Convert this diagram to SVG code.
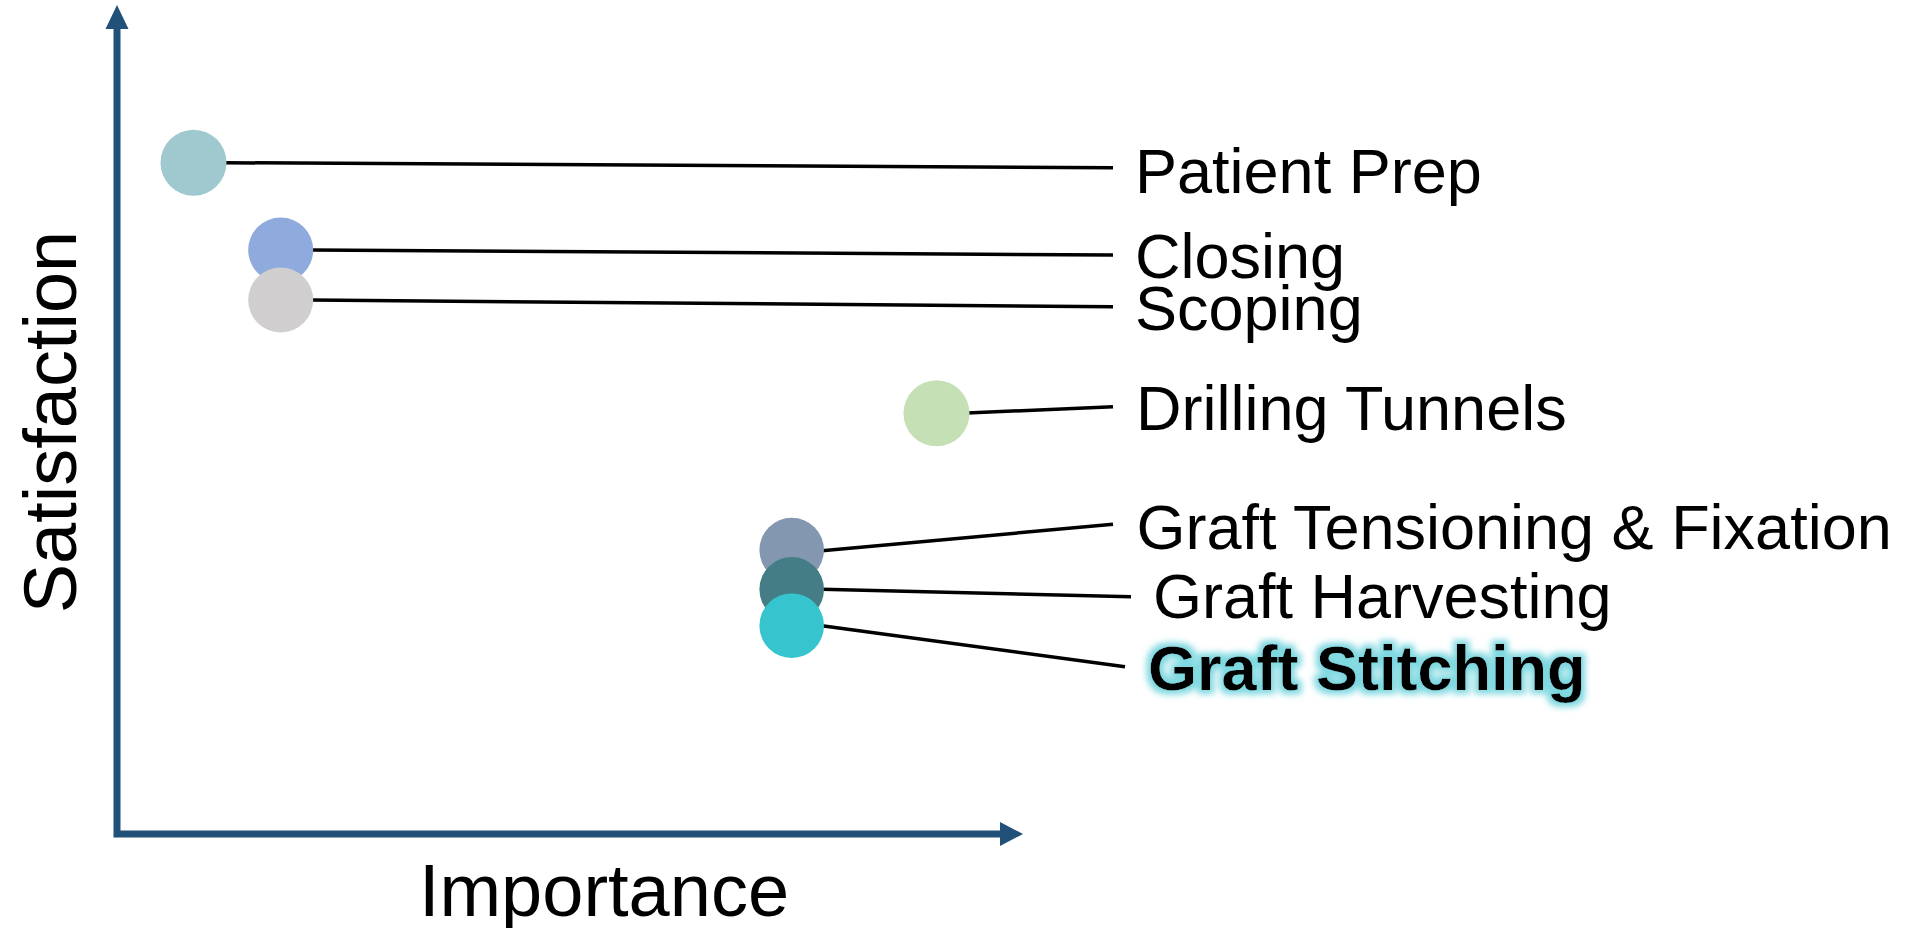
<svg xmlns="http://www.w3.org/2000/svg" width="1918" height="928" viewBox="0 0 1918 928">
  <style>
    .axis { fill: none; stroke: #215079; stroke-width: 7; stroke-linejoin: miter; }
    .head { fill: #215079; }
    .lead { stroke: #000000; stroke-width: 3.5; fill: none; }
    .label { font-family: "Liberation Sans", Arial, sans-serif; font-size: 63px; fill: #000000; }
    .title { font-family: "Liberation Sans", Arial, sans-serif; font-size: 74px; fill: #000000; }
    .bold { font-weight: bold; }
  </style>
  <defs>
    <filter id="glow" x="-10%" y="-40%" width="120%" height="180%">
      <feMorphology in="SourceAlpha" operator="dilate" radius="4" result="thick"/>
      <feGaussianBlur in="thick" stdDeviation="3" result="soft"/>
      <feFlood flood-color="#7ED8E0" flood-opacity="1"/>
      <feComposite in2="soft" operator="in" result="halo"/>
      <feMerge>
        <feMergeNode in="halo"/>
        <feMergeNode in="SourceGraphic"/>
      </feMerge>
    </filter>
  </defs>
  <rect width="1918" height="928" fill="#ffffff"/>

  <!-- axes -->
  <g id="axes">
    <path class="axis" d="M117,29 V834 H1000"/>
    <polygon class="head" points="105.5,29 117,5 128.5,29"/>
    <polygon class="head" points="1000,822 1023,834 1000,846"/>
    <text class="title" x="604" y="916" text-anchor="middle">Importance</text>
    <text class="title" transform="translate(76,422) rotate(-90)" text-anchor="middle">Satisfaction</text>
  </g>

  <!-- leader lines from each point to its label -->
  <g id="connectors">
    <line class="lead" x1="224" y1="162.7" x2="1113" y2="167.7"/>
    <line class="lead" x1="311" y1="250" x2="1113" y2="255"/>
    <line class="lead" x1="311" y1="300" x2="1113" y2="306.7"/>
    <line class="lead" x1="967" y1="413" x2="1113" y2="406.7"/>
    <line class="lead" x1="822" y1="550.7" x2="1113" y2="524.3"/>
    <line class="lead" x1="822" y1="589.3" x2="1131" y2="596.7"/>
    <line class="lead" x1="822" y1="625.7" x2="1125" y2="666.7"/>
  </g>

  <g id="patient-prep">
    <circle cx="193.5" cy="162.7" r="33" fill="#9FC9CF"/>
    <text class="label" x="1135" y="192.5">Patient Prep</text>
  </g>
  <g id="closing">
    <circle cx="280.7" cy="250" r="32.5" fill="#8FAADC"/>
    <text class="label" x="1135" y="277.5">Closing</text>
  </g>
  <g id="scoping">
    <circle cx="280.7" cy="300" r="32.5" fill="#D0CECE"/>
    <text class="label" x="1135" y="330">Scoping</text>
  </g>
  <g id="drilling-tunnels">
    <circle cx="936.5" cy="413.3" r="33" fill="#C5E0B4"/>
    <text class="label" x="1136" y="430">Drilling Tunnels</text>
  </g>
  <g id="graft-tensioning">
    <circle cx="791.7" cy="550" r="32.3" fill="#8497B0"/>
    <text class="label" x="1136.5" y="549">Graft Tensioning &amp; Fixation</text>
  </g>
  <g id="graft-harvesting">
    <circle cx="791.7" cy="589.3" r="32.3" fill="#447D86"/>
    <text class="label" x="1153" y="618">Graft Harvesting</text>
  </g>
  <g id="graft-stitching">
    <circle cx="791.7" cy="625.7" r="32.3" fill="#36C4CE"/>
    <text class="label bold" x="1148" y="690" filter="url(#glow)">Graft Stitching</text>
  </g>
</svg>
